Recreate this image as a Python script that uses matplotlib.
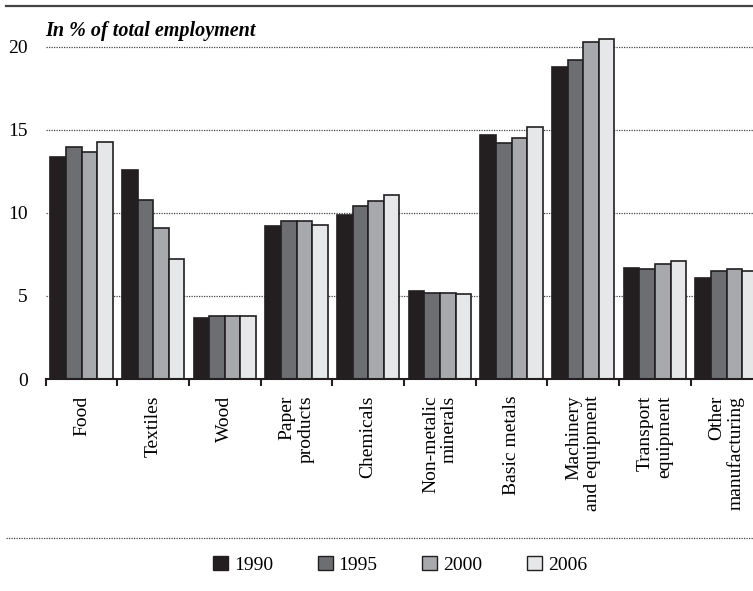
import numpy as np
import matplotlib
matplotlib.use("Agg")
import matplotlib.pyplot as plt
from matplotlib.patches import Patch
from matplotlib.lines import Line2D

plt.rcParams['font.family'] = ['Liberation Serif', 'DejaVu Serif']

sectors = ["Food", "Textiles", "Wood", "Paper\nproducts", "Chemicals",
           "Non-metalic\nminerals", "Basic metals", "Machinery\nand equipment",
           "Transport\nequipment", "Other\nmanufacturing"]
years = ["1990", "1995", "2000", "2006"]
v1990 = [13.4, 12.6, 3.7, 9.2, 9.9, 5.3, 14.7, 18.8, 6.7, 6.1]
v1995 = [14.0, 10.8, 3.8, 9.5, 10.4, 5.2, 14.2, 19.2, 6.6, 6.5]
v2000 = [13.7, 9.1, 3.8, 9.5, 10.7, 5.2, 14.5, 20.3, 6.9, 6.6]
v2006 = [14.3, 7.2, 3.8, 9.3, 11.1, 5.1, 15.2, 20.5, 7.1, 6.5]
series = [v1990, v1995, v2000, v2006]
colors = ["#231f20", "#6d6e71", "#a7a9ac", "#e6e7e8"]
edge = "#231f20"

fig = plt.figure(figsize=(7.53, 5.91), dpi=100)
W, H = 753.0, 591.0
ax = fig.add_axes([45.7 / W, (H - 379) / H, 716.7 / W, 21.5 * 16.6 / H])

x = np.arange(len(sectors))
w = 0.218
for i, vals in enumerate(series):
    ax.bar(x + (i - 1.5) * w, vals, width=w, color=colors[i],
           edgecolor=edge, linewidth=1.2, zorder=3, label=years[i])

ax.set_xlim(-0.5, len(sectors) - 0.5)
ax.set_ylim(0, 21.5)
ax.set_yticks([0, 5, 10, 15, 20])
ax.yaxis.grid(True, linestyle=(0, (1, 1)), color="#444444", linewidth=0.9, zorder=0)
for s in ["left", "top", "right"]:
    ax.spines[s].set_visible(False)
ax.spines["bottom"].set_color(edge)
ax.spines["bottom"].set_linewidth(1.5)
ax.spines["bottom"].set_zorder(4)

ax.set_xticks(x)
ax.set_xticklabels(sectors, rotation=90, multialignment="right", linespacing=1.15)
ax.set_xticks(np.arange(len(sectors) + 1) - 0.5, minor=True)
ax.tick_params(axis="x", which="major", length=0, pad=12, labelsize=14)
ax.tick_params(axis="x", which="minor", length=5, width=1.5, color=edge, direction="out")
ax.tick_params(axis="y", length=0, pad=13, labelsize=14)

fig.text(45 / W, (H - 36) / H, "In % of total employment", fontsize=14.5,
         fontweight="bold", fontstyle="italic", va="baseline", ha="left")

fig.add_artist(Line2D([6 / W, 1], [1 - 5.5 / H, 1 - 5.5 / H], color="#444444", linewidth=1.6))
fig.add_artist(Line2D([6 / W, 1], [(H - 538) / H, (H - 538) / H], color="#444444",
                      linewidth=0.9, linestyle=(0, (1, 1))))

handles = [Patch(facecolor=c, edgecolor=edge, linewidth=1.0) for c in colors]
fig.legend(handles, years, loc="center", bbox_to_anchor=(400 / W, (H - 565) / H),
           ncol=4, frameon=False, fontsize=14, handlelength=0.77, handleheight=0.72,
           handletextpad=0.3, columnspacing=2.3)

fig.savefig("out.png", dpi=100)
